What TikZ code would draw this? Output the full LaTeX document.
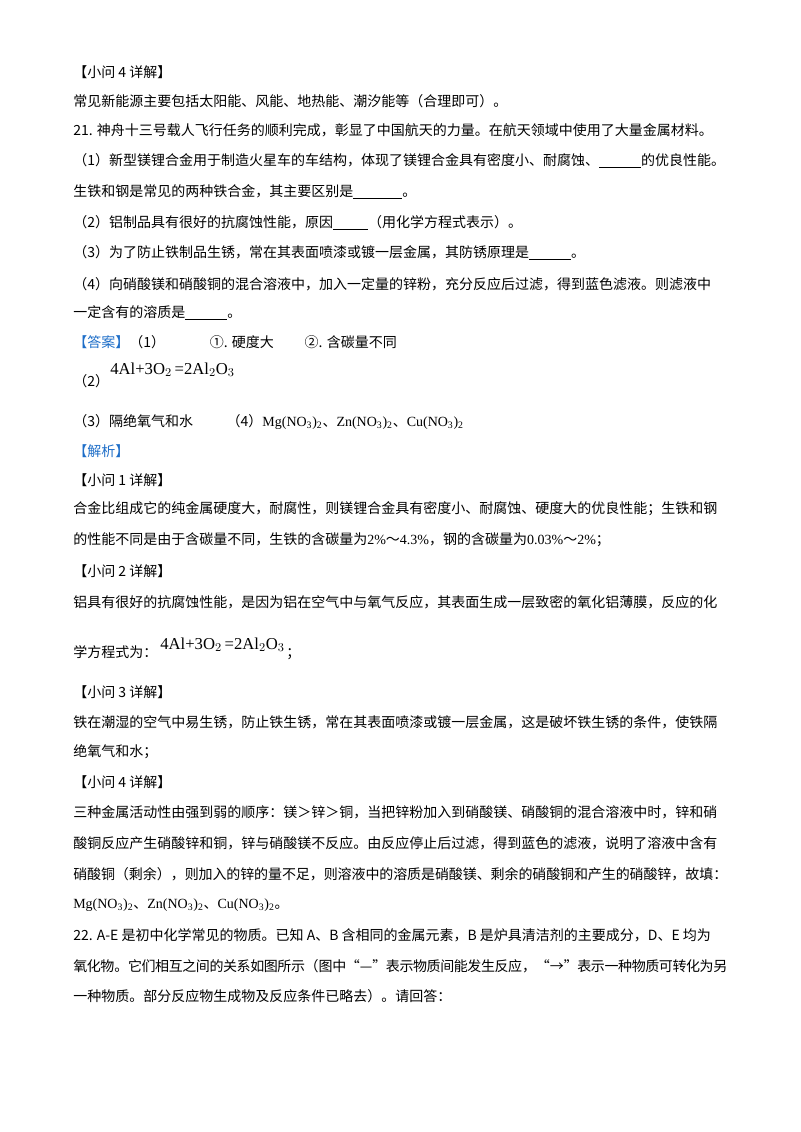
\documentclass[tikz,border=0pt]{standalone}
\usepackage{fontspec}
\setmainfont{Noto Sans CJK SC}
\newfontfamily\tnr{Liberation Serif}
\XeTeXlinebreaklocale "zh"
\XeTeXlinebreakskip=0pt plus 2pt minus 1pt
\definecolor{ansblue}{RGB}{30,110,200}
\newcommand{\blt}[1]{{\color{ansblue}#1}}
\newcommand{\alox}{{\tnr\fontsize{12.5}{14}\selectfont 4Al+3O$_2$\,=2Al$_2$O$_3$}}
\newcommand{\ntr}[1]{{\tnr #1(NO\textsubscript{3})\textsubscript{2}}}
\begin{document}
\begin{tikzpicture}[x=0.75pt,y=-0.75pt,
  every node/.style={inner sep=0pt,anchor=west,font=\fontsize{10.5}{12}\selectfont},
  jl/.style={text width=490.5pt,align=justify}]
\useasboundingbox (0,0) rectangle (800,1132);
\node (l1) at (73,72) {【小问 4 详解】};
\node (l2) at (73,101) {常见新能源主要包括太阳能、风能、地热能、潮汐能等（合理即可）。};
\node[jl] (l3) at (73,130) {\parfillskip=0pt 21. 神舟十三号载人飞行任务的顺利完成，彰显了中国航天的力量。在航天领域中使用了大量金属材料。};
\node[jl] (l4) at (73,161) {\parfillskip=0pt （1）新型镁锂合金用于制造火星车的车结构，体现了镁锂合金具有密度小、耐腐蚀、\underline{\hspace{3em}}的优良性能。};
\node (l5) at (73,192) {生铁和钢是常见的两种铁合金，其主要区别是\underline{\hspace{3.5em}}。};
\node (l6) at (73,223) {（2）铝制品具有很好的抗腐蚀性能，原因\underline{\hspace{2.5em}}（用化学方程式表示）。};
\node (l7) at (73,253) {（3）为了防止铁制品生锈，常在其表面喷漆或镀一层金属，其防锈原理是\underline{\hspace{3em}}。};
\node (l8) at (73,284) {（4）向硝酸镁和硝酸铜的混合溶液中，加入一定量的锌粉，充分反应后过滤，得到蓝色滤液。则滤液中};
\node (l9) at (73,313) {一定含有的溶质是\underline{\hspace{3em}}。};
\node (a1) at (73,342) {\blt{【答案】}（1）\hspace{3.2em}①. 硬度大\hspace{2.2em}②. 含碳量不同};
\node (a2) at (73,381) {（2）};
\node (a2f) at (110,370) {\alox};
\node (a3) at (73,422) {（3）隔绝氧气和水\hspace{2.4em}（4）\ntr{Mg}、\ntr{Zn}、\ntr{Cu}};
\node (j0) at (73,451) {\blt{【解析】}};
\node (j1) at (73,480) {【小问 1 详解】};
\node[jl] (j2) at (73,509) {\parfillskip=0pt 合金比组成它的纯金属硬度大，耐腐性，则镁锂合金具有密度小、耐腐蚀、硬度大的优良性能；生铁和钢};
\node (j3) at (73,540) {的性能不同是由于含碳量不同，生铁的含碳量为{\tnr 2\%}～{\tnr 4.3\%}，钢的含碳量为{\tnr 0.03\%}～{\tnr 2\%}；};
\node (j4) at (73,571) {【小问 2 详解】};
\node[jl] (j5) at (73,602) {\parfillskip=0pt 铝具有很好的抗腐蚀性能，是因为铝在空气中与氧气反应，其表面生成一层致密的氧化铝薄膜，反应的化};
\node (j6) at (73,652) {学方程式为：};
\node (j6f) at (160,645) {\alox};
\node (j6s) at (286,654) {；};
\node (j7) at (73,692) {【小问 3 详解】};
\node (j8) at (73,722) {铁在潮湿的空气中易生锈，防止铁生锈，常在其表面喷漆或镀一层金属，这是破坏铁生锈的条件，使铁隔};
\node (j9) at (73,752) {绝氧气和水；};
\node (j10) at (73,782) {【小问 4 详解】};
\node[jl] (j11) at (73,812) {\parfillskip=0pt 三种金属活动性由强到弱的顺序：镁＞锌＞铜，当把锌粉加入到硝酸镁、硝酸铜的混合溶液中时，锌和硝};
\node[jl] (j12) at (73,843) {\parfillskip=0pt 酸铜反应产生硝酸锌和铜，锌与硝酸镁不反应。由反应停止后过滤，得到蓝色的滤液，说明了溶液中含有};
\node[jl] (j13) at (73,874) {\parfillskip=0pt 硝酸铜（剩余），则加入的锌的量不足，则溶液中的溶质是硝酸镁、剩余的硝酸铜和产生的硝酸锌，故填：};
\node (j14) at (73,905) {\ntr{Mg}、\ntr{Zn}、\ntr{Cu}。};
\node[jl] (q1) at (73,935) {\parfillskip=0pt 22. A-E 是初中化学常见的物质。已知 A、B 含相同的金属元素，B 是炉具清洁剂的主要成分，D、E 均为};
\node[jl] (q2) at (73,966) {\parfillskip=0pt 氧化物。它们相互之间的关系如图所示（图中“—”表示物质间能发生反应，“→”表示一种物质可转化为另};
\node (q3) at (73,996) {一种物质。部分反应物生成物及反应条件已略去）。请回答：};
\end{tikzpicture}
\end{document}
